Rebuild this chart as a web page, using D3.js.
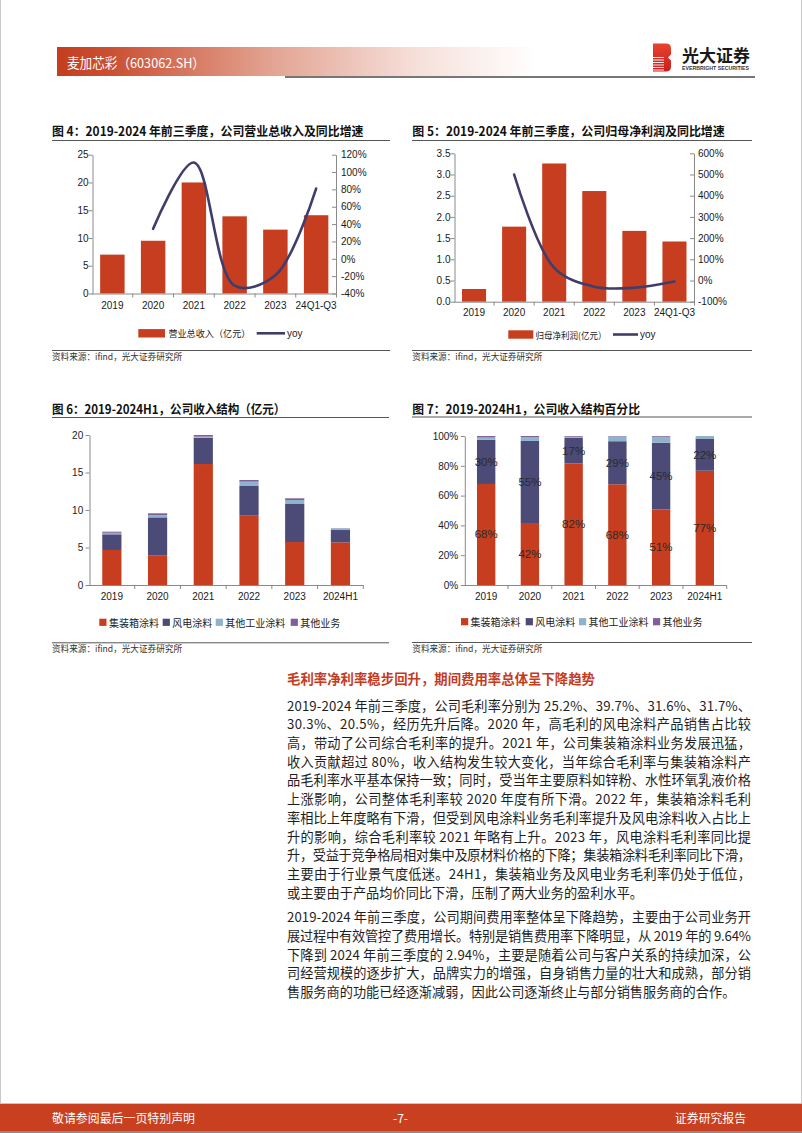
<!DOCTYPE html>
<html><head><meta charset="utf-8">
<script src="https://cdn.jsdelivr.net/npm/d3@7"></script>
<style>
html,body{margin:0;padding:0;background:#fff;}
svg{display:block;}
</style></head><body>
<svg id="page" width="802" height="1133"></svg>
<script>
// ---------------- DATA ----------------
const fig4Cats = ["2019","2020","2021","2022","2023","24Q1-Q3"];
const fig4Revenue = [7.0, 9.5, 20.0, 13.9, 11.5, 14.1];
const fig4Yoy = [null, 0.345, 1.11, -0.31, -0.19, 0.81];
const fig4LeftTicks = [0,5,10,15,20,25];
const fig4RightTicks = [-0.4,-0.2,0,0.2,0.4,0.6,0.8,1.0,1.2];

const fig5Cats = ["2019","2020","2021","2022","2023","24Q1-Q3"];
const fig5Profit = [0.30, 1.77, 3.26, 2.61, 1.67, 1.42];
const fig5Yoy = [null, 5.00, 0.60, -0.29, -0.34, -0.05];
const fig5LeftTicks = [0,0.5,1.0,1.5,2.0,2.5,3.0,3.5];
const fig5RightTicks = [-1,0,1,2,3,4,5,6];

const fig6Cats = ["2019","2020","2021","2022","2023","2024H1"];
const seriesNames = ["集装箱涂料","风电涂料","其他工业涂料","其他业务"];
const fig6Container = [4.67, 3.91, 16.13, 9.24, 5.73, 5.69];
const fig6Wind      = [2.09, 5.11, 3.51, 3.96, 5.07, 1.64];
const fig6OtherInd  = [0.20, 0.31, 0.14, 0.58, 0.53, 0.23];
const fig6Other     = [0.15, 0.23, 0.22, 0.22, 0.23, 0.02];
const fig6Ticks = [0,5,10,15,20];

const fig7Cats = ["2019","2020","2021","2022","2023","2024H1"];
const fig7Container = [67.8, 41.6, 81.6, 67.6, 50.7, 76.7];
const fig7Wind      = [29.6, 55.1, 17.1, 28.9, 44.8, 21.6];
const fig7OtherInd  = [1.6, 2.6, 0.8, 3.2, 4.0, 1.7];
const fig7Other     = [1.0, 0.7, 0.5, 0.3, 0.5, 0.0];
const fig7Ticks = [0,20,40,60,80,100];

const para1 = [
"2019-2024 年前三季度，公司毛利率分别为 25.2%、39.7%、31.6%、31.7%、",
"30.3%、20.5%，经历先升后降。2020 年，高毛利的风电涂料产品销售占比较",
"高，带动了公司综合毛利率的提升。2021 年，公司集装箱涂料业务发展迅猛，",
"收入贡献超过 80%，收入结构发生较大变化，当年综合毛利率与集装箱涂料产",
"品毛利率水平基本保持一致；同时，受当年主要原料如锌粉、水性环氧乳液价格",
"上涨影响，公司整体毛利率较 2020 年度有所下滑。2022 年，集装箱涂料毛利",
"率相比上年度略有下滑，但受到风电涂料业务毛利率提升及风电涂料收入占比上",
"升的影响，综合毛利率较 2021 年略有上升。2023 年，风电涂料毛利率同比提",
"升，受益于竞争格局相对集中及原材料价格的下降；集装箱涂料毛利率同比下滑，",
"主要由于行业景气度低迷。24H1，集装箱业务及风电业务毛利率仍处于低位，",
"或主要由于产品均价同比下滑，压制了两大业务的盈利水平。"
];
const para2 = [
"2019-2024 年前三季度，公司期间费用率整体呈下降趋势，主要由于公司业务开",
"展过程中有效管控了费用增长。特别是销售费用率下降明显，从 2019 年的 9.64%",
"下降到 2024 年前三季度的 2.94%，主要是随着公司与客户关系的持续加深，公",
"司经营规模的逐步扩大，品牌实力的增强，自身销售力量的壮大和成熟，部分销",
"售服务商的功能已经逐渐减弱，因此公司逐渐终止与部分销售服务商的合作。"
];

// ---------------- STYLE ----------------
const CJK = "'Noto Sans CJK SC','Noto Sans',sans-serif";
const NUM = "'Liberation Sans',Arial,sans-serif";
const RED = "#C63E1F";
const WIND = "#4C4B78";
const LBLUE = "#8DB4CC";
const PURP = "#80609C";
const LINEC = "#3E3D6C";
const AXIS = "#8a8a8a";
const pct = v => Math.round(v*100) + "%";

const svg = d3.select("#page");
const defs = svg.append("defs");

// ---------------- PAGE FRAME ----------------
const bg = defs.append("linearGradient").attr("id","bannerGrad").attr("x1","0").attr("x2","1").attr("y1","0").attr("y2","0");
[[0,"#C43D1E"],[0.12,"#CB5235"],[0.45,"#E3A493"],[0.75,"#F6E0DA"],[1,"#FFFFFF"]].forEach(s=>bg.append("stop").attr("offset",s[0]).attr("stop-color",s[1]));
svg.append("rect").attr("x",57).attr("y",47).attr("width",480).attr("height",29).attr("fill","url(#bannerGrad)");
svg.append("text").attr("x",67).attr("y",62).attr("dominant-baseline","central")
  .attr("font-family",CJK).attr("font-size",13.5).attr("fill","#fff").attr("textLength",138).attr("lengthAdjust","spacingAndGlyphs")
  .text("麦加芯彩（603062.SH）");
svg.append("line").attr("x1",285).attr("x2",755).attr("y1",77).attr("y2",77).attr("stroke","#4a4a4a").attr("stroke-width",1.6);

// logo
const lg = defs.append("linearGradient").attr("id","logoGrad").attr("x1","0").attr("x2","0").attr("y1","0").attr("y2","1");
lg.append("stop").attr("offset",0).attr("stop-color","#E8432F");
lg.append("stop").attr("offset",1).attr("stop-color","#C81E1E");
svg.append("path").attr("d","M653,43.5 H666 Q671,43.5 671,48.5 V54.5 L668,57.5 L671,60.5 V66.5 Q671,71.5 666,71.5 H653 Z").attr("fill","url(#logoGrad)");
[57.5,60,62.5,65,67.5,70].forEach(yy=>svg.append("line").attr("x1",653).attr("x2",664).attr("y1",yy).attr("y2",yy).attr("stroke","#fff").attr("stroke-width",0.9));
svg.append("text").attr("x",682).attr("y",54).attr("dominant-baseline","central").attr("font-family",CJK).attr("font-weight","bold")
  .attr("font-size",17).attr("fill","#1a1a1a").attr("textLength",68).attr("lengthAdjust","spacingAndGlyphs").text("光大证券");
svg.append("text").attr("x",682).attr("y",68).attr("dominant-baseline","central").attr("font-family",NUM).attr("font-weight","bold")
  .attr("font-size",5.5).attr("fill","#333").attr("textLength",67).attr("lengthAdjust","spacingAndGlyphs").text("EVERBRIGHT SECURITIES");

// page side borders
svg.append("line").attr("x1",0.5).attr("x2",0.5).attr("y1",0).attr("y2",1133).attr("stroke","#c8c8c8");
svg.append("line").attr("x1",801.5).attr("x2",801.5).attr("y1",0).attr("y2",1133).attr("stroke","#c8c8c8");

// footer
svg.append("rect").attr("x",0).attr("y",1103).attr("width",802).attr("height",1).attr("fill","#EDB9AA");
svg.append("rect").attr("x",0).attr("y",1104).attr("width",802).attr("height",27).attr("fill","#C8401F");
svg.append("rect").attr("x",0).attr("y",1131).attr("width",802).attr("height",2).attr("fill","#8a8a8a");
const ft = (x,anchor,txt,len)=>{const t=svg.append("text").attr("x",x).attr("y",1117.5).attr("dominant-baseline","central").attr("text-anchor",anchor)
  .attr("font-family",CJK).attr("font-size",12).attr("fill","#fff").text(txt); if(len) t.attr("textLength",len).attr("lengthAdjust","spacingAndGlyphs");};
ft(52,"start","敬请参阅最后一页特别声明",143);
ft(400.5,"middle","-7-");
ft(746,"end","证券研究报告",71);

// ---------------- HELPERS ----------------
function title(x,y,txt,len){
  svg.append("text").attr("x",x).attr("y",y).attr("dominant-baseline","central").attr("font-family",CJK).attr("font-weight","bold")
    .attr("font-size",12.5).attr("fill","#111").attr("textLength",len).attr("lengthAdjust","spacingAndGlyphs").text(txt);
}
function hline(x1,x2,y,c){svg.append("line").attr("x1",x1).attr("x2",x2).attr("y1",y).attr("y2",y).attr("stroke",c||"#555").attr("stroke-width",1);}
function source(x,y){
  svg.append("text").attr("x",x).attr("y",y).attr("dominant-baseline","central").attr("font-family",CJK)
    .attr("font-size",9).attr("fill","#333").attr("textLength",130).attr("lengthAdjust","spacingAndGlyphs").text("资料来源：ifind，光大证券研究所");
}
function styleAxis(a){
  a.select(".domain").attr("stroke",AXIS).attr("stroke-width",1);
  a.selectAll(".tick line").attr("stroke",AXIS);
  a.selectAll(".tick text").attr("font-family",NUM).attr("font-size",10).attr("fill","#1a1a1a");
}
function xAxisBand(g,x,xL,xR,yBot,labelY){
  g.append("line").attr("x1",xL).attr("x2",xR).attr("y1",yBot+0.5).attr("y2",yBot+0.5).attr("stroke",AXIS);
  const step = x.step(), off = (step - x.bandwidth())/2;
  x.domain().forEach((c,i)=>{
    const bx = x(c) - off + step;
    g.append("line").attr("x1",bx).attr("x2",bx).attr("y1",yBot).attr("y2",yBot+4).attr("stroke",AXIS);
    g.append("text").attr("x",x(c)+x.bandwidth()/2).attr("y",labelY).attr("text-anchor","middle").attr("dominant-baseline","central")
      .attr("font-family",NUM).attr("font-size",10).attr("fill","#1a1a1a").text(c);
  });
}

function combo(o){
  const g = svg.append("g");
  const x = d3.scaleBand().domain(o.cats).range([o.xL,o.xR]).paddingInner(0.4).paddingOuter(0.2);
  const yL = d3.scaleLinear().domain(o.leftDomain).range([o.yBot,o.yTop]);
  const yR = d3.scaleLinear().domain(o.rightDomain).range([o.yBot,o.yTop]);
  g.selectAll("rect.bar").data(o.cats.map((c,i)=>({c,v:o.bars[i]}))).join("rect").attr("class","bar")
    .attr("x",d=>x(d.c)).attr("width",x.bandwidth()).attr("y",d=>yL(d.v)).attr("height",d=>yL(0)-yL(d.v)).attr("fill",RED);
  const la = g.append("g").attr("transform",`translate(${o.xL+0.5},0)`)
    .call(d3.axisLeft(yL).tickValues(o.leftTicks).tickFormat(o.leftFmt).tickSizeInner(4).tickSizeOuter(0).tickPadding(o.lPad));
  styleAxis(la);
  const ra = g.append("g").attr("transform",`translate(${o.xR-0.5},0)`)
    .call(d3.axisRight(yR).tickValues(o.rightTicks).tickFormat(pct).tickSizeInner(-4).tickSizeOuter(0).tickPadding(o.rPad));
  styleAxis(ra);
  xAxisBand(g,x,o.xL,o.xR,o.yBot,o.labelY);
  const line = d3.line().defined(d=>d.v!=null).x(d=>x(d.c)+x.bandwidth()/2).y(d=>yR(d.v)).curve(d3.curveCatmullRom.alpha(0.5));
  g.append("path").datum(o.cats.map((c,i)=>({c,v:o.yoy[i]}))).attr("d",line).attr("fill","none")
    .attr("stroke",LINEC).attr("stroke-width",2.6).attr("stroke-linecap","round");
  // legend
  const L = o.legend;
  g.append("rect").attr("x",L.sx).attr("y",L.y-4.2).attr("width",L.sw).attr("height",8.4).attr("fill",RED);
  g.append("text").attr("x",L.tx).attr("y",L.y).attr("dominant-baseline","central").attr("font-family",CJK).attr("font-size",9.2)
    .attr("fill","#222").attr("textLength",L.tl).attr("lengthAdjust","spacingAndGlyphs").text(L.text);
  g.append("line").attr("x1",L.lx1).attr("x2",L.lx2).attr("y1",L.y).attr("y2",L.y).attr("stroke",LINEC).attr("stroke-width",2.6);
  g.append("text").attr("x",L.lx2+2).attr("y",L.y).attr("dominant-baseline","central").attr("font-family",NUM).attr("font-size",10)
    .attr("fill","#222").text("yoy");
}

function stacked(o){
  const g = svg.append("g");
  const x = d3.scaleBand().domain(o.cats).range([o.xL,o.xR]).paddingInner(0.58).paddingOuter(0.29);
  const y = d3.scaleLinear().domain(o.domain).range([o.yBot,o.yTop]);
  const keys = ["a","b","c","d"];
  const colors = [RED,WIND,LBLUE,PURP];
  const rows = o.cats.map((c,i)=>({cat:c,a:o.series[0][i],b:o.series[1][i],c:o.series[2][i],d:o.series[3][i]}));
  const st = d3.stack().keys(keys)(rows);
  st.forEach((layer,k)=>{
    g.selectAll(null).data(layer).join("rect")
      .attr("x",d=>x(d.data.cat)).attr("width",x.bandwidth())
      .attr("y",d=>y(d[1])).attr("height",d=>Math.max(0,y(d[0])-y(d[1]))).attr("fill",colors[k]);
  });
  if(o.labels){
    [0,1].forEach(k=>{
      g.selectAll(null).data(st[k]).join("text")
        .attr("x",d=>x(d.data.cat)+x.bandwidth()/2).attr("y",d=>y((d[0]+d[1])/2)).attr("text-anchor","middle").attr("dominant-baseline","central")
        .attr("font-family",NUM).attr("font-size",11.5).attr("fill","#2a2a2a").text(d=>Math.round(d[1]-d[0])+"%");
    });
  }
  const la = g.append("g").attr("transform",`translate(${o.xL+0.5},0)`)
    .call(d3.axisLeft(y).tickValues(o.ticks).tickFormat(o.fmt).tickSizeInner(4).tickSizeOuter(0).tickPadding(o.lPad));
  styleAxis(la);
  xAxisBand(g,x,o.xL,o.xR,o.yBot,o.labelY);
  o.legendX.forEach((lx,i)=>{
    g.append("rect").attr("x",lx).attr("y",o.legendY-3.6).attr("width",7.2).attr("height",7.2).attr("fill",colors[i]);
    g.append("text").attr("x",lx+9.6).attr("y",o.legendY).attr("dominant-baseline","central").attr("font-family",CJK).attr("font-size",10)
      .attr("fill","#222").text(seriesNames[i]);
  });
}

// ---------------- FIGURE 4 ----------------
title(52,130.3,"图 4：2019-2024 年前三季度，公司营业总收入及同比增速",311.5);
hline(52,390,140.5);
combo({cats:fig4Cats,bars:fig4Revenue,yoy:fig4Yoy,xL:92,xR:336.5,yTop:154.7,yBot:293.5,
  leftDomain:[0,25],leftTicks:fig4LeftTicks,leftFmt:d3.format("d"),rightDomain:[-0.4,1.2],rightTicks:fig4RightTicks,
  lPad:0,rPad:5,labelY:305.7,
  legend:{sx:138.3,sw:26.7,y:333.3,tx:168.4,tl:82,text:"营业总收入（亿元）",lx1:256.7,lx2:285}});
hline(52,390,350.5);
source(52,356.5);

// ---------------- FIGURE 5 ----------------
title(412.3,130.3,"图 5：2019-2024 年前三季度，公司归母净利润及同比增速",312.5);
hline(412,752,140.5);
combo({cats:fig5Cats,bars:fig5Profit,yoy:fig5Yoy,xL:454,xR:694.5,yTop:153.3,yBot:301.7,
  leftDomain:[0,3.5],leftTicks:fig5LeftTicks,leftFmt:d3.format(".1f"),rightDomain:[-1,6],rightTicks:fig5RightTicks,
  lPad:0,rPad:4,labelY:312.3,
  legend:{sx:508.3,sw:25,y:334.5,tx:535.5,tl:71,text:"归母净利润(亿元）",lx1:613,lx2:638}});
hline(412,752,350.5);
source(412.3,356.5);

// ---------------- FIGURE 6 ----------------
title(52,408.8,"图 6：2019-2024H1，公司收入结构（亿元）",233.3);
hline(52,389,417.5);
stacked({cats:fig6Cats,series:[fig6Container,fig6Wind,fig6OtherInd,fig6Other],xL:89,xR:363.3,yTop:435,yBot:585,
  domain:[0,20],ticks:fig6Ticks,fmt:d3.format("d"),lPad:2.3,labelY:596.7,labels:false,
  legendX:[99.3,162.7,215.7,290.7],legendY:622.3});
hline(52,389,642.8);
source(52,648.6);

// ---------------- FIGURE 7 ----------------
title(412.3,408.8,"图 7：2019-2024H1，公司收入结构百分比",227.7);
hline(412,752,417);
stacked({cats:fig7Cats,series:[fig7Container,fig7Wind,fig7OtherInd,fig7Other],xL:464.3,xR:726.7,yTop:436,yBot:585,
  domain:[0,100],ticks:fig7Ticks,fmt:v=>v+"%",lPad:2.6,labelY:596.7,labels:true,
  legendX:[461,525.7,579,653],legendY:621.7});
hline(412,752,642.5);
source(412.3,648.4);

// ---------------- TEXT BLOCK ----------------
svg.append("text").attr("x",287).attr("y",678).attr("dominant-baseline","central").attr("font-family",CJK).attr("font-weight","bold")
  .attr("font-size",13.3).attr("fill","#C43C1E").attr("textLength",308).attr("lengthAdjust","spacingAndGlyphs")
  .text("毛利率净利率稳步回升，期间费用率总体呈下降趋势");
function para(lines,y0){
  lines.forEach((ln,i)=>{
    const t = svg.append("text").attr("x",287).attr("y",y0+i*18.72).attr("dominant-baseline","central")
      .attr("font-family",CJK).attr("font-size",13.2).attr("fill","#1e1e1e").text(ln);
    if(i<lines.length-1) t.attr("textLength",464).attr("lengthAdjust","spacing");
  });
}
para(para1,705);
para(para2,916.8);
</script>
</body></html>
